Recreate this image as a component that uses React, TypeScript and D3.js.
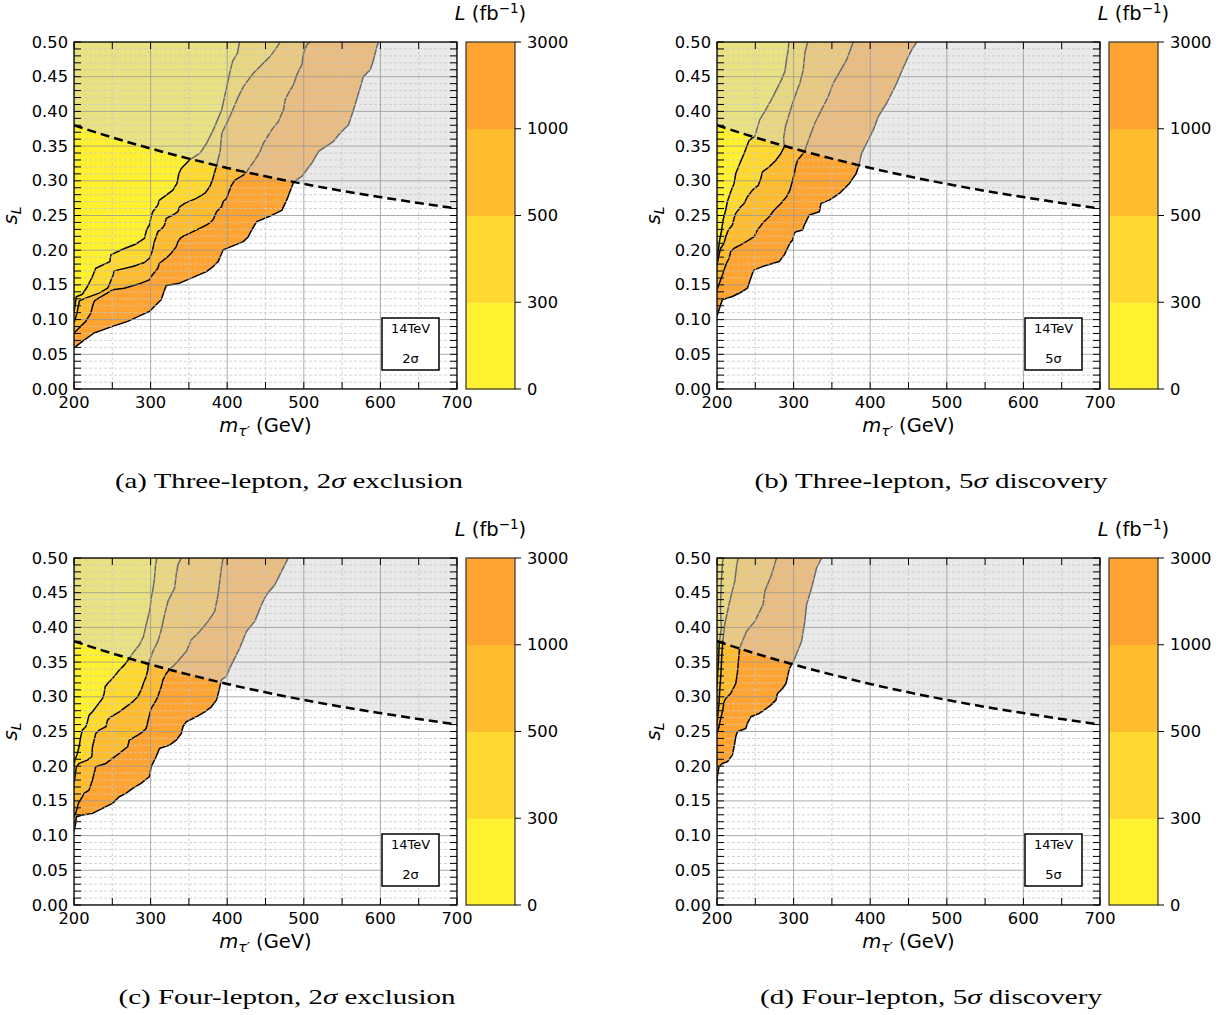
import React from "react";
import * as d3 from "d3";

type Pt = [number, number];

// ---------------- data ----------------
const massTicks = [200, 300, 400, 500, 600, 700];
const massMinorTicks = [250, 350, 450, 550, 650];
const sLTicks = [0, 0.05, 0.1, 0.15, 0.2, 0.25, 0.3, 0.35, 0.4, 0.45, 0.5];
const lumiLevels = [0, 300, 500, 1000, 3000];
const bandColors = ["#fff030", "#ffd92d", "#ffbc2f", "#ffa431"];

// dashed boundary curve (s_L upper limit)
const boundaryCurve: Pt[] = [
  [200, 0.38], [250, 0.3625], [300, 0.3465], [350, 0.332], [400, 0.3185], [450, 0.3065],
  [500, 0.2955], [550, 0.2855], [600, 0.2765], [650, 0.268], [700, 0.26],
];

// (a) three-lepton, 2 sigma : contours L = 300, 500, 1000, 3000 fb^-1
const a300: Pt[] = [
  [200, 0.11], [201.3, 0.12], [203, 0.133], [210.9, 0.1365], [217.5, 0.1477], [224, 0.162],
  [228.4, 0.174], [246.8, 0.1836], [248.1, 0.1932], [263.5, 0.2013], [281, 0.209],
  [291.9, 0.2171], [295, 0.2301], [298.5, 0.2363], [300.7, 0.2483], [302.8, 0.2555],
  [309.4, 0.265], [311.6, 0.2722], [320.4, 0.2794], [329.1, 0.2866], [334.4, 0.2962],
  [337, 0.3105], [340, 0.3177], [351.9, 0.331], [364.6, 0.34], [373.3, 0.3545],
  [382, 0.3737], [392.9, 0.4025], [399.5, 0.4361], [403.8, 0.4577], [406.9, 0.4721],
  [413.4, 0.4841], [416, 0.5],
];
const a500: Pt[] = [
  [200, 0.095], [204, 0.11], [207, 0.127], [215, 0.131], [232.8, 0.1381], [243.8, 0.1453],
  [246, 0.1501], [250.3, 0.1621], [252.5, 0.1702], [276.6, 0.1764], [291.9, 0.1822],
  [298.5, 0.1884], [302, 0.198], [305, 0.2124], [307.2, 0.2195], [309.4, 0.2267],
  [315.1, 0.2315], [318.2, 0.2363], [320.4, 0.2459], [329.1, 0.2507], [335.7, 0.2555],
  [337.9, 0.2626], [344.4, 0.2674], [359.7, 0.2746], [370.7, 0.2818], [377.2, 0.2914],
  [380.7, 0.301], [383.8, 0.3129], [386.4, 0.3232], [390.8, 0.3425], [393, 0.3689],
  [401.7, 0.3881], [408.2, 0.4049], [414.7, 0.4217], [421.3, 0.4361], [434.3, 0.4553],
  [447.4, 0.4697], [456.1, 0.4793], [462.6, 0.489], [469.2, 0.5],
];
const a1000: Pt[] = [
  [200, 0.0807], [206.6, 0.0878], [215.3, 0.0974], [221.9, 0.1094], [224.1, 0.1189],
  [226.3, 0.1261], [228.4, 0.1285], [250.3, 0.1429], [265.6, 0.1453], [287.5, 0.1525],
  [298.5, 0.1573], [300.7, 0.1621], [309.4, 0.174], [311.6, 0.1812], [322.5, 0.1908],
  [326.9, 0.1956], [333.5, 0.2052], [335.7, 0.2124], [340, 0.2186], [355.4, 0.2267],
  [364.1, 0.2315], [372.9, 0.2363], [379.4, 0.2411], [382.5, 0.2459], [386, 0.2555],
  [392.6, 0.2626], [394.7, 0.2698], [399.1, 0.2746], [401.3, 0.2818], [405.7, 0.2938],
  [410.1, 0.301], [421, 0.3081], [425.6, 0.3136], [436.5, 0.3305], [443, 0.3425],
  [447.4, 0.3545], [458.3, 0.3737], [467, 0.3857], [473.5, 0.4025], [475.7, 0.4169],
  [480, 0.4265], [486.6, 0.4385], [490.9, 0.4529], [497.5, 0.4673], [499.7, 0.4841],
  [504, 0.4962], [508.4, 0.5],
];
const a3000: Pt[] = [
  [200, 0.0591], [210.9, 0.0687], [226.3, 0.0807], [250.3, 0.0902], [270, 0.0974],
  [298.5, 0.1118], [307.2, 0.1214], [313.8, 0.1285], [320.4, 0.1491], [337.9, 0.1525],
  [372.9, 0.1692], [381.6, 0.1764], [388.2, 0.1836], [394.7, 0.2004], [421, 0.2124],
  [427.6, 0.2195], [431.9, 0.2291], [438.5, 0.2411], [456, 0.2492], [471.3, 0.2574],
  [477.9, 0.2728], [486.6, 0.298], [497.5, 0.3064], [510.5, 0.3256], [519.3, 0.3425],
  [538.9, 0.3569], [547.6, 0.3689], [558.4, 0.3809], [565, 0.4025], [571.5, 0.4265],
  [578, 0.4505], [586.8, 0.4601], [591.1, 0.4745], [595.5, 0.4938], [597.6, 0.5],
];

// (b) three-lepton, 5 sigma
const b300: Pt[] = [
  [200, 0.186], [201.7, 0.2004], [203.5, 0.2148], [206.1, 0.2291], [207.9, 0.2435],
  [211.4, 0.2579], [213.5, 0.2698], [217.9, 0.2842], [222.3, 0.2962], [224.5, 0.3105],
  [228.8, 0.3225], [235.4, 0.3393], [241.9, 0.3584], [249.3, 0.364], [255.8, 0.3881],
  [262.4, 0.4001], [271.1, 0.4169], [277.7, 0.4313], [284.2, 0.4457], [288.6, 0.4577],
  [290.8, 0.4745], [292.9, 0.4889], [293.8, 0.5],
];
const b500: Pt[] = [
  [200, 0.178], [202.6, 0.1932], [204.8, 0.2028], [209.2, 0.21], [211.4, 0.2195],
  [214.8, 0.2291], [220.1, 0.2363], [222.3, 0.2459], [224.5, 0.2531], [231, 0.2626],
  [235.4, 0.2674], [239.7, 0.277], [246.3, 0.2866], [254.1, 0.2938], [257.2, 0.3034],
  [259.4, 0.3129], [268.1, 0.3201], [276.9, 0.3297], [283.4, 0.3393], [287.8, 0.3489],
  [287, 0.362], [289.4, 0.3785], [299.5, 0.4145], [308.2, 0.4409], [312.6, 0.4601],
  [314.7, 0.4841], [318.2, 0.5],
];
const b1000: Pt[] = [
  [200, 0.1429], [204.8, 0.1573], [207.9, 0.1669], [211.4, 0.1788], [215.7, 0.1884],
  [217.9, 0.198], [222.3, 0.2028], [231, 0.2076], [241.9, 0.2148], [248.5, 0.2195],
  [252.8, 0.2291], [259.4, 0.2387], [268.1, 0.2483], [274.7, 0.2579], [283.4, 0.2674],
  [290.8, 0.277], [295.2, 0.2866], [298.7, 0.301], [300.9, 0.3105], [303.1, 0.3225],
  [305.2, 0.3297], [314, 0.3417], [321.3, 0.3641], [327.8, 0.3833], [338.7, 0.4073],
  [345.3, 0.4217], [351.8, 0.4409], [360.6, 0.4577], [369.3, 0.4745], [375.8, 0.4938],
  [378, 0.5],
];
const b3000: Pt[] = [
  [200, 0.1046], [202.6, 0.1142], [207, 0.1285], [220.1, 0.1333], [233.2, 0.1405],
  [239.7, 0.1453], [241.9, 0.1525], [246.3, 0.1669], [248.5, 0.1716], [259.4, 0.1764],
  [281.2, 0.1836], [287.8, 0.1932], [292.1, 0.2028], [295.2, 0.21], [298.7, 0.2148],
  [300.9, 0.2243], [303.1, 0.2267], [311.8, 0.2291], [314, 0.2363], [318.3, 0.2459],
  [320.5, 0.2507], [333.6, 0.2555], [335.8, 0.2674], [346.7, 0.2722], [359.8, 0.2818],
  [372.9, 0.2962], [377.3, 0.3034], [381.7, 0.3105], [385.2, 0.3225], [388.9, 0.34],
  [395.5, 0.3545], [404.2, 0.3737], [410.7, 0.3929], [421.6, 0.4121], [428.2, 0.4265],
  [434.7, 0.4409], [439.1, 0.4529], [447.8, 0.4745], [454.4, 0.4889], [460.9, 0.5],
];

// (c) four-lepton, 2 sigma
const c300: Pt[] = [
  [200, 0.2016], [201.3, 0.2088], [204.4, 0.2184], [206.6, 0.228], [208.8, 0.2424],
  [210.9, 0.252], [215.3, 0.2568], [217.5, 0.264], [219.7, 0.2736], [224.1, 0.2784],
  [230.6, 0.288], [237.2, 0.2976], [239.4, 0.3048], [240.7, 0.3144], [243.8, 0.3192],
  [250.3, 0.3264], [259.1, 0.3384], [265.6, 0.3456], [272.2, 0.3552], [276.8, 0.363],
  [285.5, 0.375], [290.8, 0.387], [294.2, 0.4038], [298.6, 0.4231], [300.8, 0.4423],
  [303, 0.4543], [305.1, 0.4712], [306.5, 0.4904], [308.2, 0.5],
];
const c500: Pt[] = [
  [200, 0.1752], [201.3, 0.1848], [203.1, 0.1992], [206.6, 0.204], [217.5, 0.2088],
  [223.2, 0.2136], [224.1, 0.228], [226.3, 0.2376], [228.4, 0.2472], [232.8, 0.252],
  [241.6, 0.2568], [243.8, 0.2664], [248.1, 0.2712], [259.1, 0.2784], [267.8, 0.2856],
  [276.6, 0.2928], [283.2, 0.3], [287.5, 0.3096], [290.6, 0.3192], [294.1, 0.3288],
  [296.3, 0.3384], [297.2, 0.348], [303, 0.3654], [309.5, 0.3798], [313.9, 0.3966],
  [318.2, 0.4183], [322.6, 0.4375], [331.3, 0.4567], [333.5, 0.476], [335.7, 0.4904],
  [340.1, 0.5],
];
const c1000: Pt[] = [
  [200, 0.1272], [202.2, 0.132], [205.7, 0.1464], [210.9, 0.156], [213.1, 0.1608],
  [219.7, 0.1656], [224.1, 0.18], [226.3, 0.1896], [228.4, 0.1992], [241.6, 0.204],
  [250.3, 0.2112], [259.1, 0.2184], [270, 0.228], [272.2, 0.2376], [283.2, 0.2448],
  [289.7, 0.2496], [294.1, 0.2544], [296.3, 0.264], [298.5, 0.2736], [300.7, 0.2832],
  [305, 0.2904], [309.4, 0.3], [313.8, 0.3144], [316, 0.324], [320.4, 0.3336],
  [324.7, 0.3394], [333.5, 0.3486], [346.6, 0.3654], [353.1, 0.3822], [364, 0.3942],
  [375, 0.4087], [383.7, 0.4231], [388, 0.4471], [390.2, 0.4663], [392.4, 0.4856],
  [394.6, 0.5],
];
const c3000: Pt[] = [
  [200, 0.1056], [202.2, 0.1176], [203.1, 0.1272], [210.9, 0.1296], [224.1, 0.132],
  [237.2, 0.1392], [250.3, 0.1464], [259.1, 0.156], [267.8, 0.1608], [276.6, 0.168],
  [287.5, 0.1752], [298.5, 0.1848], [300.7, 0.1992], [307.2, 0.2136], [311.6, 0.2256],
  [324.7, 0.2304], [333.5, 0.2376], [340, 0.2472], [342.2, 0.2568], [346.6, 0.264],
  [359.7, 0.2712], [370.7, 0.2784], [379.4, 0.2856], [386, 0.2952], [389.5, 0.3096],
  [392.4, 0.3245], [399, 0.3293], [403.3, 0.3413], [409.9, 0.3558], [416.4, 0.3702],
  [425.1, 0.3942], [436, 0.4087], [444.8, 0.4327], [451.3, 0.4471], [462.2, 0.4615],
  [468.8, 0.476], [475.3, 0.4904], [479.7, 0.5],
];

// (d) four-lepton, 5 sigma
const d300: Pt[] = [
  [200, 0.3144], [200.4, 0.324], [201.7, 0.348], [203, 0.378], [205.7, 0.399],
  [204.5, 0.428], [205.7, 0.4663], [207, 0.4904], [207.9, 0.5],
];
const d500: Pt[] = [
  [200, 0.2616], [200.9, 0.2712], [202.6, 0.2904], [203.5, 0.3096], [205.2, 0.3336],
  [206.1, 0.3576], [207.5, 0.379], [210, 0.4038], [216.6, 0.4375], [223.1, 0.4663],
  [225.3, 0.4856], [227.5, 0.5],
];
const d1000: Pt[] = [
  [200, 0.2472], [202.6, 0.2568], [204.8, 0.2688], [207, 0.2784], [209.2, 0.2928],
  [211.4, 0.2976], [217.9, 0.3048], [224.5, 0.3192], [226.6, 0.3336], [227.9, 0.3504],
  [229.5, 0.3702], [234, 0.3822], [238.4, 0.3942], [249.3, 0.4087], [260.2, 0.4327],
  [262.4, 0.4519], [271.1, 0.476], [277.7, 0.5],
];
const d3000: Pt[] = [
  [200, 0.1752], [200.4, 0.1848], [202.6, 0.1992], [207, 0.204], [213.5, 0.2064],
  [220.1, 0.216], [222.3, 0.228], [224.5, 0.2424], [226.6, 0.2496], [237.6, 0.2544],
  [239.7, 0.2616], [244.1, 0.2712], [255, 0.276], [261.6, 0.2808], [270.3, 0.288],
  [276.9, 0.2952], [279, 0.3048], [285.6, 0.312], [290, 0.3192], [292.1, 0.3288],
  [294.3, 0.34], [297.3, 0.3465], [301.7, 0.3558], [310.4, 0.3798], [314.7, 0.4087],
  [316.9, 0.4327], [323.5, 0.4567], [330, 0.4856], [336.6, 0.5],
];

const captionHeads = ["(a) Three-lepton, 2", "(b) Three-lepton, 5", "(c) Four-lepton, 2", "(d) Four-lepton, 5"];
const captionTails = [" exclusion", " discovery", " exclusion", " discovery"];
const sigmaLabels = ["2σ", "5σ", "2σ", "5σ"];
const energyLabel = "14TeV";

// ---------------- layout ----------------
const PW = 383;
const PH = 347;
const FONT = "DejaVu Sans, sans-serif";

const panels = [
  { x0: 74, y0: 42, contours: [a300, a500, a1000, a3000], capX: 289, capW: 348 },
  { x0: 717, y0: 42, contours: [b300, b500, b1000, b3000], capX: 931, capW: 353 },
  { x0: 74, y0: 558, contours: [c300, c500, c1000, c3000], capX: 287, capW: 337 },
  { x0: 717, y0: 558, contours: [d300, d500, d1000, d3000], capX: 931, capW: 342 },
];

function Panel({ idx }: { idx: number }) {
  const p = panels[idx];
  const { x0, y0 } = p;
  const x = d3.scaleLinear().domain([200, 700]).range([x0, x0 + PW]);
  const y = d3.scaleLinear().domain([0, 0.5]).range([y0 + PH, y0]);
  const line = d3.line<Pt>().x((d) => x(d[0])).y((d) => y(d[1]));
  const smooth = d3.line<Pt>().x((d) => x(d[0])).y((d) => y(d[1])).curve(d3.curveMonotoneX);
  const clipId = `clip${idx}`;

  const fills = [3, 2, 1, 0].map((k) => {
    const c = p.contours[k];
    const poly: Pt[] = [...c, [200, 0.5]];
    return <path key={`f${k}`} d={(line(poly) || "") + "Z"} fill={bandColors[k]} stroke="none" />;
  });
  const lines = [0, 1, 2, 3].map((k) => (
    <path key={`l${k}`} d={line(p.contours[k]) || ""} fill="none" stroke="#000" strokeWidth={1.5} strokeLinejoin="round" />
  ));

  const overlay = (smooth(boundaryCurve) || "") + `L${x(700)},${y(0.5)}L${x(200)},${y(0.5)}Z`;

  const minorY = d3.range(0, 51).map((i) => i / 100).filter((v) => Math.round(v * 100) % 5 !== 0);
  const tickY = d3.range(0, 51).map((i) => i / 100);
  const tickX = d3.range(200, 701, 50);

  const cbx = x0 + 392;
  const cbw = 49;
  const bandH = PH / 4;

  return (
    <g>
      <defs>
        <clipPath id={clipId}>
          <rect x={x0} y={y0} width={PW} height={PH} />
        </clipPath>
      </defs>
      <rect x={x0} y={y0} width={PW} height={PH} fill="#fff" />
      <g clipPath={`url(#${clipId})`}>
        {fills}
        {lines}
        <path d={overlay} fill="#d3d3d3" fillOpacity={0.5} />
        {massMinorTicks.map((m) => (
          <line key={`mx${m}`} x1={x(m)} x2={x(m)} y1={y0} y2={y0 + PH} stroke="#c8c8c8" strokeWidth={0.8} strokeDasharray="3,2" />
        ))}
        {minorY.map((s) => (
          <line key={`my${s}`} x1={x0} x2={x0 + PW} y1={y(s)} y2={y(s)} stroke="#c8c8c8" strokeWidth={0.8} strokeDasharray="3,2" />
        ))}
        {massTicks.map((m) => (
          <line key={`gx${m}`} x1={x(m)} x2={x(m)} y1={y0} y2={y0 + PH} stroke="#999" strokeWidth={1} strokeOpacity={0.8} />
        ))}
        {sLTicks.map((s) => (
          <line key={`gy${s}`} x1={x0} x2={x0 + PW} y1={y(s)} y2={y(s)} stroke="#999" strokeWidth={1} strokeOpacity={0.8} />
        ))}
        <path d={smooth(boundaryCurve) || ""} fill="none" stroke="#000" strokeWidth={2.5} strokeDasharray="9,5" />
      </g>
      {tickY.map((s) => (
        <g key={`ty${s}`}>
          <line x1={x0} x2={x0 + 7} y1={y(s)} y2={y(s)} stroke="#000" strokeWidth={1} />
          <line x1={x0 + PW - 7} x2={x0 + PW} y1={y(s)} y2={y(s)} stroke="#000" strokeWidth={1} />
        </g>
      ))}
      {tickX.map((m) => (
        <g key={`tx${m}`}>
          <line x1={x(m)} x2={x(m)} y1={y0 + PH} y2={y0 + PH - 7} stroke="#000" strokeWidth={1} />
          <line x1={x(m)} x2={x(m)} y1={y0} y2={y0 + 7} stroke="#000" strokeWidth={1} />
        </g>
      ))}
      <rect x={x0} y={y0} width={PW} height={PH} fill="none" stroke="#000" strokeWidth={1.3} />
      {sLTicks.map((s) => (
        <text key={`yl${s}`} x={x0 - 6} y={y(s)} textAnchor="end" dominantBaseline="central" fontFamily={FONT} fontSize={16.3}>
          {s.toFixed(2)}
        </text>
      ))}
      {massTicks.map((m) => (
        <text key={`xl${m}`} x={x(m)} y={y0 + PH + 19} textAnchor="middle" fontFamily={FONT} fontSize={16.3}>
          {m}
        </text>
      ))}
      <text x={x0 + PW / 2} y={y0 + PH + 43} textAnchor="middle" fontFamily={FONT} fontSize={19.5}>
        <tspan fontStyle="italic">m</tspan>
        <tspan fontSize={14} fontStyle="italic" dy={4}>τ′</tspan>
        <tspan dy={-4}> (GeV)</tspan>
      </text>
      <text transform={`translate(${x0 - 57},${y0 + PH / 2}) rotate(-90)`} textAnchor="middle" fontFamily={FONT} fontSize={19.5}>
        <tspan fontStyle="italic">s</tspan>
        <tspan fontSize={14} fontStyle="italic" dy={4}>L</tspan>
      </text>
      <rect x={x0 + PW - 75} y={y0 + PH - 71} width={57} height={52} fill="#fff" stroke="#000" strokeWidth={1.5} />
      <text x={x0 + PW - 46.5} y={y0 + PH - 56} textAnchor="middle" fontFamily={FONT} fontSize={13}>
        {energyLabel}
      </text>
      <text x={x0 + PW - 46.5} y={y0 + PH - 26} textAnchor="middle" fontFamily={FONT} fontSize={13}>
        {sigmaLabels[idx]}
      </text>
      {bandColors.map((c, k) => (
        <rect key={`cb${k}`} x={cbx} y={y0 + PH - (k + 1) * bandH} width={cbw} height={bandH + 0.5} fill={c} />
      ))}
      <rect x={cbx} y={y0} width={cbw} height={PH} fill="none" stroke="#333" strokeWidth={1.2} />
      {lumiLevels.map((L, k) => (
        <g key={`cbt${L}`}>
          <line x1={cbx + cbw} x2={cbx + cbw + 6} y1={y0 + PH - k * bandH} y2={y0 + PH - k * bandH} stroke="#000" strokeWidth={1} />
          <text x={cbx + cbw + 12} y={y0 + PH - k * bandH} dominantBaseline="central" fontFamily={FONT} fontSize={16.3}>
            {L}
          </text>
        </g>
      ))}
      <text x={cbx + cbw / 2} y={y0 - 22} textAnchor="middle" fontFamily={FONT} fontSize={19.5}>
        <tspan fontStyle="italic">L</tspan>
        <tspan> (fb</tspan>
        <tspan fontSize={13.5} dy={-7}>−1</tspan>
        <tspan dy={7}>)</tspan>
      </text>
      <text
        x={p.capX}
        y={y0 + 446}
        textAnchor="middle"
        fontFamily="Liberation Serif, serif"
        fontSize={22}
        textLength={p.capW}
        lengthAdjust="spacingAndGlyphs"
      >
        <tspan>{captionHeads[idx]}</tspan>
        <tspan fontStyle="italic">σ</tspan>
        <tspan>{captionTails[idx]}</tspan>
      </text>
    </g>
  );
}

export default function App() {
  return (
    <svg width={1226} height={1015} style={{ position: "absolute", left: 0, top: 0, background: "#fff" }}>
      <rect x={0} y={0} width={1226} height={1015} fill="#fff" />
      {panels.map((_, i) => (
        <Panel key={i} idx={i} />
      ))}
    </svg>
  );
}
